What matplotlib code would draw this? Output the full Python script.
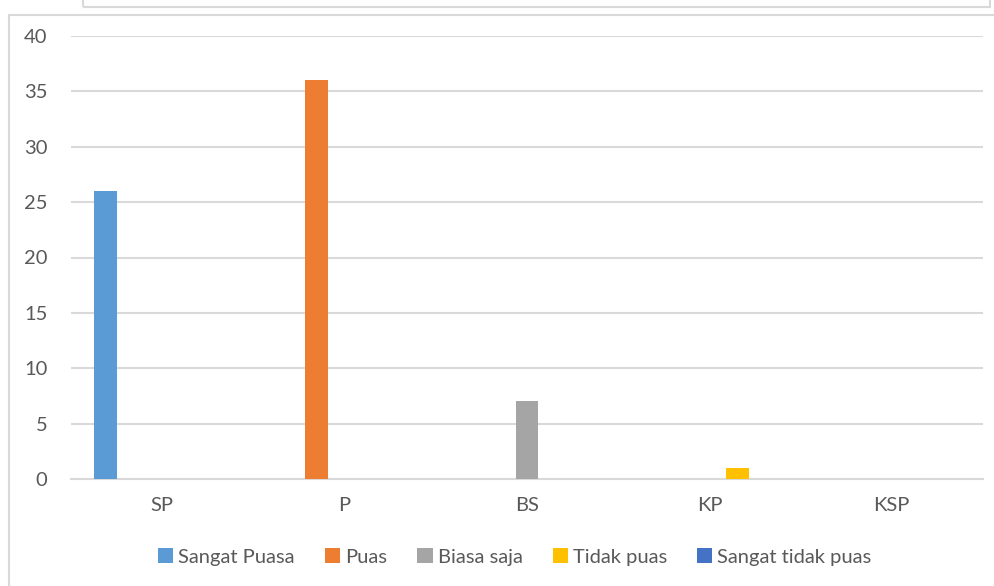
import numpy as np
import matplotlib.pyplot as plt
from matplotlib.patches import Rectangle

categories = ["SP", "P", "BS", "KP", "KSP"]
series_names = ["Sangat Puasa", "Puas", "Biasa saja", "Tidak puas", "Sangat tidak puas"]
sangat_puasa = [26, 0, 0, 0, 0]
puas = [0, 36, 0, 0, 0]
biasa_saja = [0, 0, 7, 0, 0]
tidak_puas = [0, 0, 0, 1, 0]
sangat_tidak_puas = [0, 0, 0, 0, 0]
series_values = [sangat_puasa, puas, biasa_saja, tidak_puas, sangat_tidak_puas]
colors = ["#5B9BD5", "#ED7D31", "#A5A5A5", "#FFC000", "#4472C4"]
yticks = [0, 5, 10, 15, 20, 25, 30, 35, 40]

plt.rcParams["font.family"] = ["Lato", "DejaVu Sans"]
text_color = "#595959"

W, H = 995, 586
fig = plt.figure(figsize=(W / 100, H / 100), dpi=100)

# frame of the chart area and the box above it
fig.patches.append(Rectangle((9 / W, -0.01), 1.0, (H - 15) / H + 0.01,
                             transform=fig.transFigure, fill=False,
                             edgecolor="#d9d9d9", linewidth=1.5))
fig.patches.append(Rectangle((83 / W, (H - 7) / H), (990 - 83) / W, 0.1,
                             transform=fig.transFigure, fill=False,
                             edgecolor="#d9d9d9", linewidth=1.5))

ax = fig.add_axes([71 / W, (H - 479) / H, (983 - 71) / W, (479 - 36) / H])

x = np.arange(len(categories))
bar_w = 0.126
step = 0.156
for i, (name, vals, c) in enumerate(zip(series_names, series_values, colors)):
    ax.bar(x + (i - 2) * step, vals, width=bar_w, color=c, label=name, zorder=3)

ax.set_xlim(-0.5, len(categories) - 0.5)
ax.set_ylim(0, 40)
ax.set_yticks(yticks)
ax.set_xticks(x)
ax.set_xticklabels(categories)
ax.grid(axis="y", color="#d9d9d9", linewidth=1.5, zorder=0)
for s in ["top", "right", "left"]:
    ax.spines[s].set_visible(False)
ax.spines["bottom"].set_color("#d9d9d9")
ax.spines["bottom"].set_linewidth(1.5)
ax.tick_params(axis="both", length=0, labelsize=14.5, labelcolor=text_color)
ax.tick_params(axis="y", pad=17)
ax.tick_params(axis="x", pad=13)

leg = fig.legend(loc="center", bbox_to_anchor=(515 / W, (H - 557) / H), ncol=5,
                 frameon=False, fontsize=14.5, handlelength=0.75, handleheight=0.75,
                 handletextpad=0.25, columnspacing=1.5)
for t in leg.get_texts():
    t.set_color(text_color)

fig.savefig("out.png", dpi=100)
